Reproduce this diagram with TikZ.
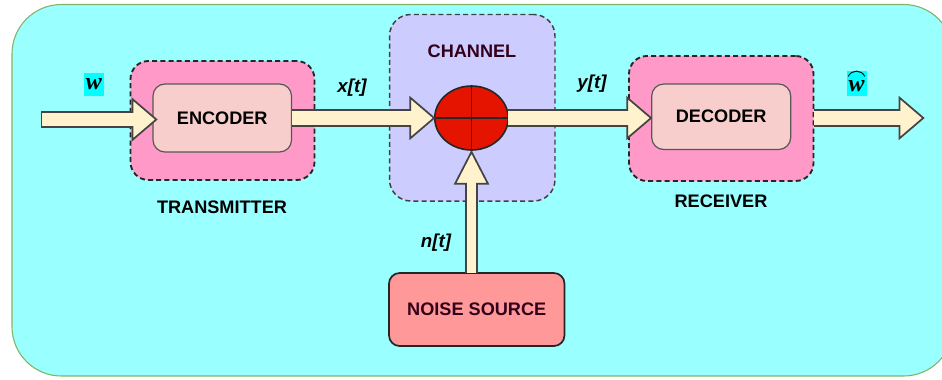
\documentclass[tikz,border=0pt]{standalone}
\usepackage{fontspec}
\setmainfont{Liberation Sans}
\newfontfamily\symfont{Liberation Serif}
\usetikzlibrary{arrows.meta,calc,shapes.geometric}
\definecolor{bgc}{HTML}{99FFFF}
\definecolor{bgl}{HTML}{82B366}
\definecolor{pinkc}{HTML}{FF99C8}
\definecolor{boxc}{HTML}{F8CECC}
\definecolor{chanc}{HTML}{CCCCFF}
\definecolor{redc}{HTML}{E51400}
\definecolor{noisec}{HTML}{FF9999}
\definecolor{creamc}{HTML}{FFF2CC}
\definecolor{edgec}{HTML}{444444}
\definecolor{inkc}{HTML}{33001A}
\definecolor{msgc}{HTML}{00FFFF}
\tikzset{
  group/.style={draw=black!85,line width=1.4pt,dash pattern=on 3.75pt off 2.4pt,rounded corners=13.5pt,inner sep=0pt,outer sep=0pt},
  inner box/.style={draw=edgec!90,fill=boxc,line width=0.9pt,rounded corners=9pt,inner sep=0pt,outer sep=0pt,font=\bfseries\fontsize{13.6}{15}\selectfont},
  lab/.style={font=\bfseries\fontsize{13.6}{15}\selectfont,inner sep=0pt},
  siglab/.style={font=\bfseries\itshape\fontsize{14}{16}\selectfont,inner sep=0pt},
  msg/.style={fill=msgc,inner sep=0pt,minimum width=15pt,font=\symfont\bfseries\itshape\fontsize{18}{18}\selectfont},
  fat/.style={draw=edgec,line width=1.3pt,double=creamc,double distance=10.4pt,
    -{Triangle[length=19.5pt,width=33pt,fill=creamc,line width=1.3pt]},shorten >=-0.5pt},
  fat core/.style={draw=creamc,line width=10.4pt,shorten >=16.5pt,shorten <=0.7pt},
  fat thin/.style={draw=edgec,line width=1.3pt,double=creamc,double distance=7.2pt,
    -{Triangle[length=26pt,width=26.5pt,fill=creamc,line width=1.3pt]}},
  thin core/.style={draw=creamc,line width=7.2pt,shorten >=23.5pt,shorten <=0.7pt},
}
\begin{document}
\begin{tikzpicture}[x=0.75pt,y=-0.75pt]
\useasboundingbox (0,0) rectangle (942,379);
\begin{scope}
\clip (0,0) rectangle (942,379);
\draw[draw=bgl,fill=bgc,line width=0.8pt,rounded corners=37pt] (12,4.5) rectangle (953,376);
\end{scope}
\node[group,fill=pinkc,minimum width=138pt,minimum height=89.25pt] (tx) at (222.5,120.5) {};
\node[group,fill=pinkc,minimum width=138.4pt,minimum height=93.75pt] (rx) at (721.25,118.5) {};
\node[group,fill=chanc,draw=black!75,line width=1.1pt,rounded corners=16pt,minimum width=124.1pt,minimum height=139.9pt] (chan) at (472.25,107.75) {};
\node[inner box,minimum width=103.9pt,minimum height=51pt] (enc) at (222.25,118) {ENCODER};
\node[inner box,minimum width=104.25pt,minimum height=49.1pt] (dec) at (721.2,116.75) {DECODER};
\node[ellipse,draw=black!85,fill=redc,line width=1.2pt,inner sep=0pt,outer sep=0pt,minimum width=55.1pt,minimum height=48pt] (sum) at (471.5,118) {};
\draw[draw=black!85,line width=1.2pt] (sum.north) -- (sum.south);
\draw[draw=black!85,line width=1.2pt] (sum.west) -- (sum.east);
\node[draw=black!85,fill=noisec,line width=1.3pt,rounded corners=8pt,inner sep=0pt,outer sep=0pt,minimum width=131.6pt,minimum height=54.75pt,text=inkc,font=\bfseries\fontsize{13.6}{15}\selectfont] (noise) at (476.75,309.5) {NOISE SOURCE};
\node[lab,text=inkc] (chlab) at (472,51) {CHANNEL};
\node[lab] (txlab) at (222,207) {TRANSMITTER};
\node[lab] (rxlab) at (721,201) {RECEIVER};
\node[siglab] (xt) at (352,88) {x[t]};
\node[siglab] (yt) at (592,84) {y[t]};
\node[siglab] (nt) at (436,243) {n[t]};
\node[msg,minimum height=17pt] (w) at (94,84.5) {w};
\node[msg,minimum height=18.5pt,text depth=0pt] (wh) at (856.5,83.5) {\raisebox{-3.5pt}{w}};
\draw[black,line width=0.7pt] ($(wh.north west)+(2,5.5)$) .. controls ($(wh.north)+(-5,-1.5)$) and ($(wh.north)+(5,-1.5)$) .. ($(wh.north east)+(-2,5.5)$);
\coordinate (inS) at (41.5,119.5);
\coordinate (inT) at (157,119.5);
\coordinate (outT) at (924,118);
\draw[fat] (inS) -- (inT);
\draw[fat core] (inS) -- (inT);
\draw[edgec,line width=1.3pt,line cap=rect] ($(inS)+(0,-8)$) -- ($(inS)+(0,8)$);
\draw[fat] (enc.east) -- (sum.west);
\draw[fat core] (enc.east) -- (sum.west);
\draw[fat] (sum.east) -- (dec.west |- sum.east);
\draw[fat core] (sum.east) -- (dec.west |- sum.east);
\draw[fat] (rx.east |- sum.east) -- (outT);
\draw[fat core] (rx.east |- sum.east) -- (outT);
\draw[fat thin] (sum.south |- noise.north) -- (sum.south);
\draw[thin core] (sum.south |- noise.north) -- (sum.south);
\end{tikzpicture}
\end{document}
